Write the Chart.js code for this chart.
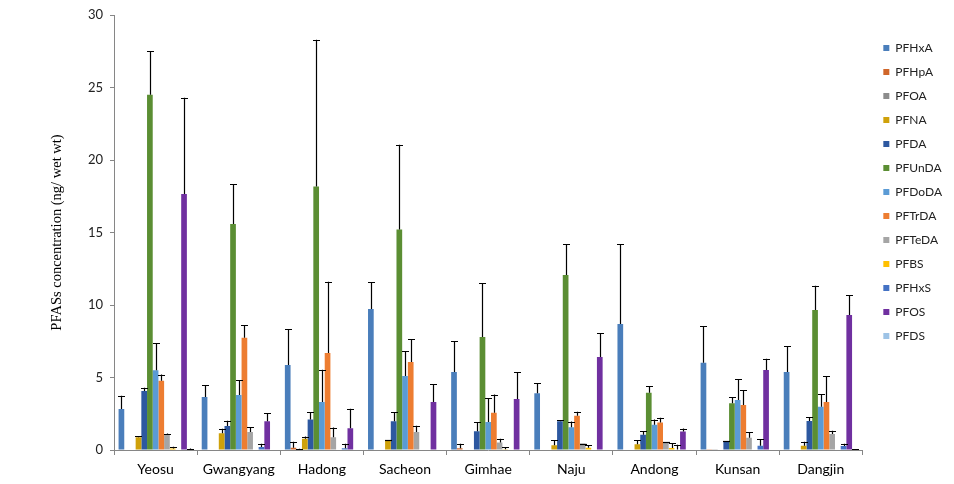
<!DOCTYPE html>
<html>
<head>
<meta charset="utf-8">
<script src="https://cdn.jsdelivr.net/npm/chart.js@4/dist/chart.umd.min.js"></script>
<style>
  html, body { margin: 0; padding: 0; background: #ffffff; }
  #wrap { width: 954px; height: 484px; position: relative; }
</style>
</head>
<body>
<div id="wrap"><canvas id="c" width="954" height="484"></canvas></div>
<script>
// ---- data ----
const categories = ["Yeosu", "Gwangyang", "Hadong", "Sacheon", "Gimhae", "Naju", "Andong", "Kunsan", "Dangjin"];
const seriesNames = ["PFHxA", "PFHpA", "PFOA", "PFNA", "PFDA", "PFUnDA", "PFDoDA", "PFTrDA", "PFTeDA", "PFBS", "PFHxS", "PFOS", "PFDS"];
const yTicks = [0, 5, 10, 15, 20, 25, 30];

const PFHxA  = [2.83, 3.66, 5.86, 9.72, 5.38, 3.91, 8.69, 6.02, 5.38];
const PFHpA  = [0, 0, 0.15, 0, 0.12, 0, 0, 0.05, 0];
const PFOA   = [0, 0, 0.04, 0, 0, 0, 0, 0.06, 0];
const PFNA   = [0.88, 1.16, 0.77, 0.66, 0, 0.33, 0.40, 0, 0.30];
const PFDA   = [4.07, 1.66, 2.10, 1.99, 1.30, 1.99, 1.06, 0.62, 2.00];
const PFUnDA = [24.5, 15.59, 18.18, 15.2, 7.79, 12.07, 3.95, 3.22, 9.66];
const PFDoDA = [5.50, 3.79, 3.31, 5.10, 1.93, 1.57, 1.75, 3.45, 2.99];
const PFTrDA = [4.78, 7.75, 6.69, 6.07, 2.57, 2.37, 1.90, 3.10, 3.31];
const PFTeDA = [1.05, 1.24, 0.88, 1.24, 0.52, 0.44, 0.56, 0.85, 1.10];
const PFBS   = [0.10, 0, 0, 0, 0.05, 0.15, 0.14, 0, 0];
const PFHxS  = [0, 0.20, 0.12, 0, 0, 0, 0.04, 0.30, 0.28];
const PFOS   = [17.66, 1.99, 1.50, 3.31, 3.52, 6.41, 1.27, 5.52, 9.31];
const PFDS   = [0.02, 0, 0, 0, 0, 0, 0, 0, 0.03];

// upper error amounts (null = no error bar)
const errPFHxA  = [0.92, 0.80, 2.46, 1.84, 2.11, 0.69, 5.49, 2.51, 1.77];
const errPFHpA  = [null, null, 0.42, null, 0.31, null, null, null, null];
const errPFOA   = [null, null, 0.05, null, null, null, null, null, null];
const errPFNA   = [0.07, 0.31, 0.16, 0.00, null, 0.33, 0.26, null, 0.27];
const errPFDA   = [0.23, 0.36, 0.50, 0.61, 0.60, 0.06, 0.24, 0.00, 0.28];
const errPFUnDA = [3.00, 2.75, 10.12, 5.86, 3.70, 2.11, 0.44, 0.41, 1.67];
const errPFDoDA = [1.85, 1.04, 2.23, 1.70, 1.63, 0.39, 0.35, 1.42, 0.85];
const errPFTrDA = [0.42, 0.85, 4.91, 1.56, 1.25, 0.26, 0.32, 1.02, 1.77];
const errPFTeDA = [0.08, 0.33, 0.67, 0.43, 0.26, 0.00, 0.00, 0.37, 0.23];
const errPFBS   = [0.12, null, null, null, 0.15, 0.17, 0.34, null, null];
const errPFHxS  = [null, 0.23, 0.31, null, null, null, 0.32, 0.44, 0.15];
const errPFOS   = [6.64, 0.53, 1.35, 1.22, 1.86, 1.64, 0.21, 0.78, 1.36];
const errPFDS   = [0.08, null, null, null, null, null, null, null, 0.02];

const seriesValues = [PFHxA, PFHpA, PFOA, PFNA, PFDA, PFUnDA, PFDoDA, PFTrDA, PFTeDA, PFBS, PFHxS, PFOS, PFDS];
const seriesErrors = [errPFHxA, errPFHpA, errPFOA, errPFNA, errPFDA, errPFUnDA, errPFDoDA, errPFTrDA, errPFTeDA, errPFBS, errPFHxS, errPFOS, errPFDS];

const colors = ["#4A7EBB", "#D0662A", "#8C8C8C", "#CFA10A", "#2D58A0", "#5B8E33", "#5B9BD5",
                "#ED7D31", "#A5A5A5", "#FFC000", "#4472C4", "#7030A0", "#9DC3E6"];

const datasets = seriesNames.map((name, i) => ({
  label: name,
  data: seriesValues[i],
  errors: seriesErrors[i],
  backgroundColor: colors[i],
  borderWidth: 0,
  categoryPercentage: 0.89,
  barPercentage: 1.0
}));

const errorBarPlugin = {
  id: 'errorBars',
  afterDatasetsDraw(chart) {
    const ctx = chart.ctx;
    const y = chart.scales.y;
    ctx.save();
    ctx.strokeStyle = '#000000';
    ctx.lineWidth = 1.2;
    chart.data.datasets.forEach((ds, i) => {
      const meta = chart.getDatasetMeta(i);
      meta.data.forEach((bar, j) => {
        const e = ds.errors[j];
        if (e === null || e === undefined) return;
        const top = y.getPixelForValue(ds.data[j] + e);
        const base = bar.y;
        const cx = Math.round(bar.x) + 0.5;
        const half = 3.5;
        ctx.beginPath();
        ctx.moveTo(cx, base);
        ctx.lineTo(cx, top);
        ctx.moveTo(cx - half, Math.round(top) + 0.5);
        ctx.lineTo(cx + half, Math.round(top) + 0.5);
        ctx.stroke();
      });
    });
    ctx.restore();
  }
};

new Chart(document.getElementById('c'), {
  type: 'bar',
  data: { labels: categories, datasets: datasets },
  options: {
    responsive: false,
    animation: false,
    devicePixelRatio: 1,
    layout: { padding: { left: 0, top: 15, right: 2, bottom: 5 } },
    plugins: {
      legend: {
        position: 'right',
        align: 'start',
        title: { display: true, text: ' ', font: { size: 10 }, padding: { top: 3, bottom: 0 } },
        labels: {
          boxWidth: 6,
          boxHeight: 6,
          padding: 12,
          color: '#222222',
          font: { family: 'Lato', size: 12 }
        }
      },
      tooltip: { enabled: false }
    },
    scales: {
      x: {
        grid: { display: true, drawOnChartArea: false, drawTicks: true, tickLength: 5, color: '#868686', offset: true },
        border: { display: true, color: '#868686', width: 1 },
        ticks: { color: '#000000', font: { family: 'Lato', size: 14 }, padding: 6, maxRotation: 0 },
        afterFit(scale) { scale.height = 29; }
      },
      y: {
        min: 0,
        max: 30,
        afterBuildTicks(scale) { scale.ticks = yTicks.map(v => ({ value: v })); },
        grid: { display: true, drawOnChartArea: false, drawTicks: true, tickLength: 4, color: '#868686' },
        border: { display: true, color: '#868686', width: 1 },
        ticks: { color: '#222222', font: { family: 'Lato', size: 13 }, padding: 7 },
        title: {
          display: true,
          text: 'PFASs concentration (ng/ wet wt)',
          color: '#000000',
          font: { family: 'Liberation Serif', size: 14.5 },
          padding: { top: 48, bottom: 0 }
        },
        afterFit(scale) { scale.width = 114; }
      },
      spacer: {
        type: 'linear',
        position: 'right',
        display: true,
        grid: { display: false },
        border: { display: false },
        ticks: { display: false },
        afterFit(scale) { scale.width = 9; }
      }
    }
  },
  plugins: [errorBarPlugin]
});
</script>
</body>
</html>
